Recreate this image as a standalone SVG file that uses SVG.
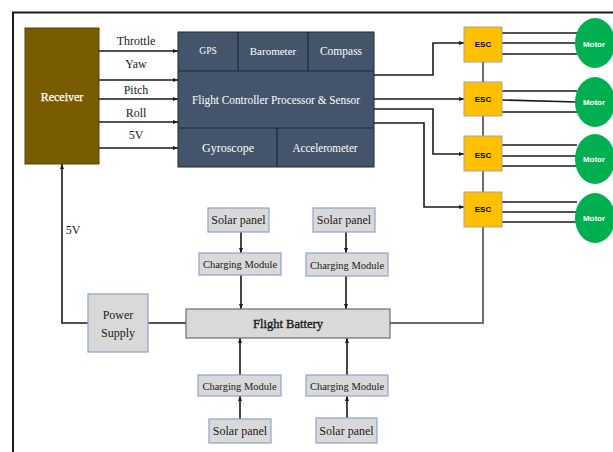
<svg xmlns="http://www.w3.org/2000/svg" width="613" height="452" viewBox="0 0 613 452">
<defs>
<marker id="ah" viewBox="0 0 10 10" refX="10" refY="5" markerWidth="5" markerHeight="5" orient="auto" markerUnits="userSpaceOnUse">
<path d="M0,1 L10,5 L0,9 z" fill="#1a1a1a"/>
</marker>
<style>
.t{font-family:"Liberation Serif","DejaVu Serif",serif;fill:#1a1a1a;text-anchor:middle;dominant-baseline:central}
.w{fill:#ffffff}
.s{font-family:"Liberation Sans",Arial,sans-serif;font-weight:bold;text-anchor:middle;dominant-baseline:central;font-size:8px}
.ln{stroke:#1a1a1a;stroke-width:1.6;fill:none}
.ga{stroke:#6b6b6b;stroke-width:2;fill:none}
.gbox{fill:#d9d9d9;stroke:#8ea4c8;stroke-width:1.2}
.fc{fill:#44546a;stroke:#1f2733;stroke-width:1}
.esc{fill:#ffc000;stroke:#a3a3a3;stroke-width:1}
.mot{fill:#00b050}
</style>
</defs>
<rect width="613" height="452" fill="#ffffff"/>
<path d="M13,452 V12.5 H613" stroke="#1a1a1a" stroke-width="2" fill="none"/>

<g id="connectors">
<!-- receiver to FC -->
<line class="ln" x1="99" y1="51" x2="178" y2="51" marker-end="url(#ah)"/>
<line class="ln" x1="99" y1="80" x2="178" y2="80" marker-end="url(#ah)"/>
<line class="ln" x1="99" y1="99" x2="178" y2="99" marker-end="url(#ah)"/>
<line class="ln" x1="99" y1="122" x2="178" y2="122" marker-end="url(#ah)"/>
<line class="ln" x1="99" y1="148" x2="178" y2="148" marker-end="url(#ah)"/>
<!-- FC to ESC -->
<polyline class="ln" points="374,75 433,75 433,43 464,43" marker-end="url(#ah)"/>
<line class="ln" x1="374" y1="99" x2="464" y2="99" marker-end="url(#ah)"/>
<polyline class="ln" points="374,109 433,109 433,154 464,154" marker-end="url(#ah)"/>
<polyline class="ln" points="374,123 424,123 424,207 464,207" marker-end="url(#ah)"/>
<!-- ESC to motors -->
<g class="ln" stroke-width="1.4">
<line x1="502" y1="33" x2="577" y2="33"/><line x1="502" y1="43" x2="577" y2="43"/><line x1="502" y1="54" x2="577" y2="54"/>
<line x1="502" y1="91" x2="577" y2="91"/><line x1="502" y1="100" x2="577" y2="102"/><line x1="502" y1="112" x2="577" y2="112"/>
<line x1="502" y1="145" x2="577" y2="145"/><line x1="502" y1="156" x2="577" y2="156"/><line x1="502" y1="166" x2="577" y2="166"/>
<line x1="502" y1="202" x2="577" y2="202"/><line x1="502" y1="212" x2="577" y2="212"/><line x1="502" y1="222" x2="577" y2="222"/>
</g>
<!-- ESC power bus -->
<polyline class="ga" points="483,62 483,82"/>
<polyline class="ga" points="483,116 483,136"/>
<polyline class="ga" points="483,171 483,192"/>
<polyline class="ga" points="483,227 483,323 390,323"/>
<!-- power supply -->
<polyline class="ln" points="88,323 62,323 62,164" marker-end="url(#ah)"/>
<line class="ln" x1="148" y1="323" x2="186" y2="323"/>
<!-- solar top -->
<line class="ln" x1="241" y1="232" x2="241" y2="253" marker-end="url(#ah)"/>
<line class="ln" x1="241" y1="275" x2="241" y2="309" marker-end="url(#ah)"/>
<line class="ln" x1="346" y1="232" x2="346" y2="253" marker-end="url(#ah)"/>
<line class="ln" x1="346" y1="276" x2="346" y2="309" marker-end="url(#ah)"/>
<!-- solar bottom -->
<line class="ln" x1="240" y1="419" x2="240" y2="396" marker-end="url(#ah)"/>
<line class="ln" x1="240" y1="375" x2="240" y2="338" marker-end="url(#ah)"/>
<line class="ln" x1="347" y1="418" x2="347" y2="396" marker-end="url(#ah)"/>
<line class="ln" x1="347" y1="375" x2="347" y2="338" marker-end="url(#ah)"/>
</g>

<g id="labels">
<text class="t" x="136" y="41" font-size="12">Throttle</text>
<text class="t" x="136" y="64" font-size="12">Yaw</text>
<text class="t" x="136" y="90" font-size="12">Pitch</text>
<text class="t" x="136" y="113" font-size="12">Roll</text>
<text class="t" x="136" y="135" font-size="12">5V</text>
<text class="t" x="73" y="230" font-size="12">5V</text>
</g>

<g id="receiver">
<rect x="25" y="28" width="74" height="136" fill="#7a5c00" stroke="#5a4400" stroke-width="1"/>
<text class="t w" x="62" y="97" font-size="12" stroke="#ffffff" stroke-width="0.25">Receiver</text>
</g>

<g id="flight-controller">
<rect class="fc" x="178" y="32" width="196" height="135"/>
<line x1="178" y1="71" x2="374" y2="71" stroke="#1f2733" stroke-width="1.2"/>
<line x1="178" y1="128" x2="374" y2="128" stroke="#1f2733" stroke-width="1.2"/>
<line x1="238" y1="32" x2="238" y2="71" stroke="#1f2733" stroke-width="1.2"/>
<line x1="308" y1="32" x2="308" y2="71" stroke="#1f2733" stroke-width="1.2"/>
<line x1="277" y1="128" x2="277" y2="167" stroke="#1f2733" stroke-width="1.2"/>
<text class="t w" x="208" y="51" font-size="9.5">GPS</text>
<text class="t w" x="273" y="51" font-size="11">Barometer</text>
<text class="t w" x="341" y="51" font-size="11.5">Compass</text>
<text class="t w" x="276" y="100" font-size="12" textLength="168" lengthAdjust="spacingAndGlyphs">Flight Controller Processor &amp; Sensor</text>
<text class="t w" x="228" y="148" font-size="12">Gyroscope</text>
<text class="t w" x="325" y="148" font-size="12" textLength="65" lengthAdjust="spacingAndGlyphs">Accelerometer</text>
</g>

<g id="esc1"><rect class="esc" x="464" y="27" width="38" height="35"/><text class="s" x="483" y="44">ESC</text></g>
<g id="esc2"><rect class="esc" x="464" y="82" width="38" height="34"/><text class="s" x="483" y="99">ESC</text></g>
<g id="esc3"><rect class="esc" x="464" y="136" width="38" height="35"/><text class="s" x="483" y="155">ESC</text></g>
<g id="esc4"><rect class="esc" x="464" y="192" width="38" height="35"/><text class="s" x="483" y="209">ESC</text></g>

<g id="motor1"><ellipse class="mot" cx="595" cy="43" rx="20" ry="25"/><text class="s w" x="594" y="44">Motor</text></g>
<g id="motor2"><ellipse class="mot" cx="595" cy="102" rx="20" ry="25"/><text class="s w" x="594" y="102">Motor</text></g>
<g id="motor3"><ellipse class="mot" cx="595" cy="159" rx="20" ry="25"/><text class="s w" x="594" y="159">Motor</text></g>
<g id="motor4"><ellipse class="mot" cx="595" cy="218" rx="20" ry="25"/><text class="s w" x="594" y="218">Motor</text></g>

<g id="power-supply">
<rect class="gbox" x="88" y="294" width="60" height="58"/>
<text class="t" x="118" y="315" font-size="12">Power</text>
<text class="t" x="118" y="333" font-size="12">Supply</text>
</g>

<g id="flight-battery">
<rect x="186" y="309" width="204" height="29" fill="#d9d9d9" stroke="#6b6b6b" stroke-width="1.2"/>
<text class="t" x="288" y="324" font-size="12.5" stroke="#1a1a1a" stroke-width="0.35">Flight Battery</text>
</g>

<g id="solar1"><rect class="gbox" x="208" y="208" width="61" height="24"/><text class="t" x="238.5" y="220" font-size="12">Solar panel</text></g>
<g id="solar2"><rect class="gbox" x="313" y="208" width="62" height="24"/><text class="t" x="344" y="220" font-size="12">Solar panel</text></g>
<g id="charging1"><rect class="gbox" x="199" y="253" width="82" height="22"/><text class="t" x="240" y="264" font-size="10.5">Charging Module</text></g>
<g id="charging2"><rect class="gbox" x="306" y="253" width="82" height="23"/><text class="t" x="347" y="265" font-size="10.5">Charging Module</text></g>
<g id="charging3"><rect class="gbox" x="198" y="375" width="83" height="21"/><text class="t" x="239.5" y="386" font-size="10.5">Charging Module</text></g>
<g id="charging4"><rect class="gbox" x="306" y="375" width="82" height="21"/><text class="t" x="347" y="386" font-size="10.5">Charging Module</text></g>
<g id="solar3"><rect class="gbox" x="209" y="419" width="62" height="24"/><text class="t" x="240" y="431" font-size="12">Solar panel</text></g>
<g id="solar4"><rect class="gbox" x="316" y="418" width="61" height="25"/><text class="t" x="346.5" y="431" font-size="12">Solar panel</text></g>
</svg>
